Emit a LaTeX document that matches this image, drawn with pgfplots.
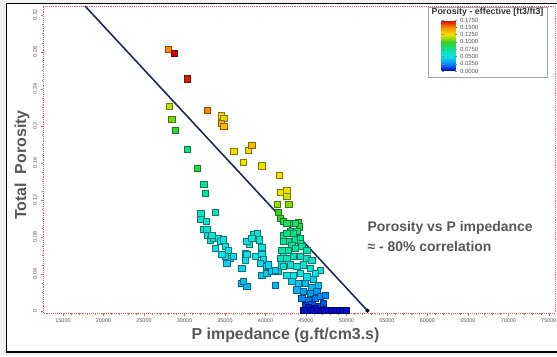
\documentclass[border=0pt]{standalone}
\usepackage{pgfplots}
\pgfplotsset{compat=1.18}
\usepackage{fontspec}
\setmainfont{Liberation Sans}
\definecolor{labelgray}{RGB}{88,88,88}
\definecolor{fitnavy}{RGB}{30,45,85}
\definecolor{framered}{RGB}{232,96,96}

% Well-log samples: P impedance, total porosity, effective porosity (colour)
\pgfplotstableread{
x y c
28005 0.283 0.150
28709 0.279 0.175
30351 0.251 0.170
28128 0.221 0.118
28424 0.207 0.108
28869 0.195 0.095
30351 0.175 0.080
31549 0.154 0.092
32784 0.217 0.150
34513 0.211 0.130
34846 0.208 0.130
34550 0.203 0.138
34846 0.200 0.138
36081 0.173 0.128
37885 0.174 0.128
38304 0.179 0.138
37267 0.161 0.126
39539 0.157 0.126
41713 0.147 0.126
41800 0.128 0.124
42627 0.130 0.124
42627 0.124 0.120
42874 0.115 0.110
41466 0.115 0.112
41590 0.107 0.100
41800 0.100 0.095
42207 0.097 0.095
43368 0.095 0.090
44060 0.096 0.090
44146 0.091 0.088
32376 0.137 0.075
32574 0.127 0.072
33772 0.107 0.065
32006 0.105 0.060
32006 0.099 0.060
32661 0.097 0.058
32327 0.088 0.058
32741 0.088 0.057
32821 0.082 0.055
33155 0.077 0.055
33562 0.079 0.055
33364 0.082 0.055
34180 0.079 0.055
34390 0.075 0.053
34797 0.077 0.053
33772 0.068 0.052
35007 0.070 0.052
35415 0.066 0.050
35625 0.057 0.048
35007 0.059 0.048
35217 0.052 0.045
36032 0.059 0.048
34600 0.061 0.050
37069 0.046 0.045
37069 0.030 0.040
37687 0.027 0.038
37477 0.062 0.050
37477 0.055 0.048
38008 0.072 0.055
38712 0.059 0.050
38502 0.083 0.058
38996 0.084 0.058
39243 0.077 0.055
39539 0.069 0.052
39539 0.061 0.050
39737 0.056 0.048
40071 0.048 0.045
39539 0.039 0.042
40157 0.041 0.042
40775 0.043 0.043
41590 0.043 0.043
41182 0.028 0.038
42010 0.050 0.046
42208 0.061 0.050
37687 0.075 0.055
38305 0.079 0.056
37687 0.061 0.050
39330 0.052 0.047
40355 0.050 0.046
41182 0.044 0.044
37267 0.032 0.040
42627 0.095 0.085
43652 0.095 0.085
43035 0.086 0.080
43862 0.086 0.080
42207 0.082 0.078
42627 0.084 0.078
43442 0.084 0.077
42825 0.075 0.075
43652 0.077 0.075
44270 0.079 0.075
42207 0.075 0.075
43245 0.071 0.072
44270 0.073 0.072
42010 0.066 0.070
42825 0.066 0.070
43652 0.068 0.070
44480 0.070 0.070
45097 0.066 0.068
41800 0.057 0.065
42627 0.057 0.065
43442 0.059 0.063
44270 0.059 0.063
45097 0.057 0.062
45715 0.055 0.060
42207 0.048 0.058
43035 0.050 0.058
43862 0.048 0.056
44677 0.050 0.056
45505 0.046 0.055
46740 0.044 0.055
42627 0.039 0.052
43442 0.039 0.050
44270 0.041 0.050
45097 0.037 0.048
46122 0.041 0.050
45912 0.034 0.045
43245 0.032 0.045
44060 0.030 0.042
44887 0.030 0.040
45715 0.026 0.038
46530 0.028 0.040
43862 0.023 0.035
44677 0.021 0.032
45505 0.019 0.030
46332 0.021 0.030
44480 0.014 0.025
45295 0.012 0.022
46122 0.014 0.022
46740 0.016 0.025
47357 0.017 0.025
45715 0.007 0.015
46530 0.005 0.012
47147 0.008 0.015
44887 0.006 0.012
45300 0.004 0.006
46200 0.003 0.005
44680 0.001 0.003
45100 0.001 0.003
45500 0.001 0.002
45950 0.001 0.002
46400 0.001 0.002
46850 0.001 0.002
47300 0.001 0.002
47750 0.001 0.002
48200 0.001 0.002
48650 0.001 0.002
49100 0.001 0.002
49550 0.001 0.002
49950 0.001 0.002
}\samples

\begin{document}
\begin{tikzpicture}[x=1bp,y=1bp]
% window background and frame
\fill[gray!10] (0,0) rectangle (557,356);
\draw[line width=1.3bp, fill=white] (6.5,4) rectangle (575,352.5);
% colour legend box
\draw[gray!70, line width=0.8bp, fill=white] (428,279) rectangle (547,349);
\node[font=\bfseries\fontsize{8.9}{9}\selectfont, text=black!80] at (487.5,343.5) {Porosity - effective [ft3/ft3]};

\begin{axis}[
  at={(43bp,43bp)}, anchor=south west,
  scale only axis, width=512bp, height=307bp,
  xmin=12530, xmax=75760, ymin=-0.0022, ymax=0.3297,
  xtick={15000,20000,25000,30000,35000,40000,45000,50000,55000,60000,65000,70000,75000},
  ytick={0,0.04,0.08,0.12,0.16,0.2,0.24,0.28,0.32},
  scaled x ticks=false, scaled y ticks=false,
  /pgf/number format/assume math mode=true,
  xticklabel style={/pgf/number format/1000 sep={}},
  yticklabel style={rotate=90, anchor=south, /pgf/number format/fixed, /pgf/number format/precision=2},
  ticklabel style={font=\fontsize{5.5}{6}\selectfont, text=labelgray},
  axis line style={framered, densely dotted, line width=0.9bp},
  tick style={framered, line width=0.4bp},
  tick align=outside, major tick length=2.5bp, minor tick length=1.5bp,
  minor x tick num=4, minor y tick num=3,
  xtick pos=bottom, ytick pos=left,
  colormap={porosity}{rgb255=(0,0,200) rgb255=(0,140,245) rgb255=(20,225,230) rgb255=(10,225,150) rgb255=(60,210,30) rgb255=(240,230,0) rgb255=(250,140,0) rgb255=(210,0,0)},
  point meta min=0, point meta max=0.175,
  colorbar,
  colorbar style={
    at={(parent axis.north east)}, anchor=north west,
    xshift=-122bp, yshift=-14bp,
    scale only axis, width=15bp, height=51bp,
    ytick={0,0.025,0.05,0.075,0.1,0.125,0.15,0.175},
    scaled y ticks=false,
    yticklabel style={font=\fontsize{6}{6}\selectfont, text=labelgray,
      /pgf/number format/fixed, /pgf/number format/fixed zerofill,
      /pgf/number format/precision=4, /pgf/number format/assume math mode=true},
    major tick length=2bp, tick style={gray},
    axis line style={draw=none},
  },
]
\addplot[scatter, only marks, mark=square*, mark size=3.1bp, point meta=explicit,
  scatter/use mapped color={draw=mapped color!55!black, fill=mapped color, line width=0.5bp}]
  table[x=x, y=y, meta=c] {\samples};
% least-squares trend line
\addplot[fitnavy, line width=1.6bp, mark=*, mark indices={2}, mark size=1.1bp,
  mark options={fill=black, draw=black}]
  coordinates {(17717,0.3297) (52600,0.0003)};
\end{axis}

\node[rotate=90, font=\bfseries\fontsize{16}{18}\selectfont, text=labelgray] at (22,191) {Total\ \ Porosity};
\node[font=\bfseries\fontsize{16}{18}\selectfont, text=labelgray] at (285.5,20.5) {P impedance (g.ft/cm3.s)};
\node[anchor=west, font=\bfseries\fontsize{14}{16}\selectfont, text=labelgray] at (364,128) {Porosity vs P impedance};
\node[anchor=west, font=\bfseries\fontsize{14}{16}\selectfont, text=labelgray] at (364,109) {≈ - 80\% correlation};

\pgfresetboundingbox
\useasboundingbox (0,0) rectangle (557,356);
\end{tikzpicture}
\end{document}
